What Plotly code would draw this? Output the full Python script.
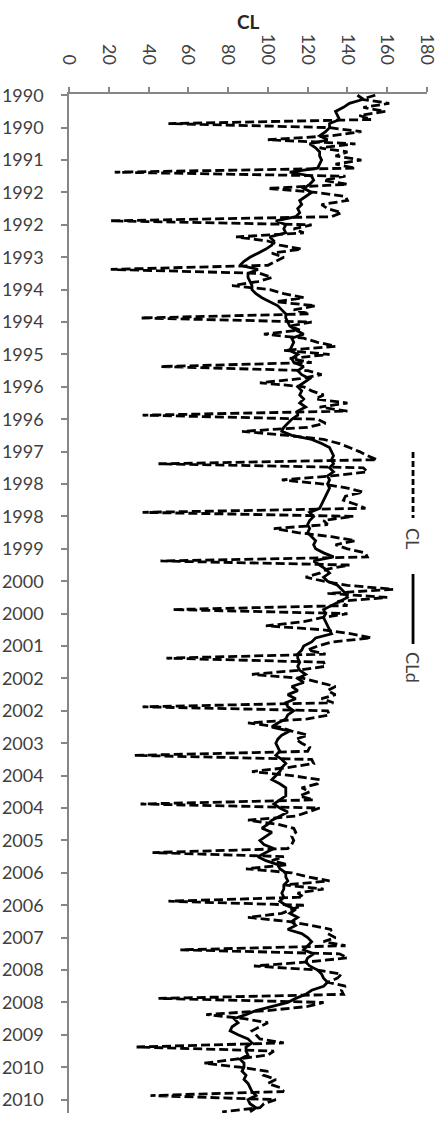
import plotly.graph_objects as go

# Monthly categories Jan 1990 .. Dec 2010
months = [f"{y}-{m:02d}" for y in range(1990, 2011) for m in range(1, 13)]

# CL (dashed) monthly values
cl = [
    154, 147, 161, 148, 159, 146, 152, 50, 131, 147, 132, 100,   # 1990
    144, 126, 140, 134, 147, 134, 144, 23, 139, 128, 140, 100,   # 1991
    124, 139, 140, 127, 130, 137, 132, 21, 122, 113, 118, 84,    # 1992
    100, 106, 117, 102, 108, 104, 100, 21, 96, 102, 95, 82,      # 1993
    101, 108, 118, 104, 124, 113, 121, 36, 122, 111, 116, 98,    # 1994
    118, 125, 134, 108, 131, 111, 122, 46, 120, 127, 116, 96,    # 1995
    118, 122, 128, 124, 140, 126, 140, 37, 125, 129, 120, 87,    # 1996
    110, 128, 136, 141, 146, 150, 155, 45, 148, 150, 132, 107,   # 1997
    128, 140, 148, 139, 138, 144, 149, 37, 143, 128, 130, 103,   # 1998
    115, 132, 144, 134, 140, 149, 150, 46, 141, 130, 126, 119,   # 1999
    128, 140, 163, 130, 160, 135, 140, 52, 140, 127, 118, 99,    # 2000
    128, 142, 152, 132, 125, 120, 129, 49, 128, 129, 115, 92,    # 2001
    118, 126, 134, 130, 134, 127, 133, 37, 130, 131, 120, 90,    # 2002
    106, 112, 120, 114, 117, 121, 120, 33, 122, 123, 110, 92,    # 2003
    112, 126, 125, 117, 121, 116, 123, 36, 126, 120, 114, 90,    # 2004
    105, 113, 114, 112, 113, 112, 110, 42, 108, 102, 110, 89,    # 2005
    112, 120, 131, 108, 128, 115, 118, 50, 118, 112, 107, 90,    # 2006
    110, 122, 132, 130, 134, 128, 139, 56, 136, 140, 120, 93,    # 2007
    125, 137, 135, 130, 139, 137, 138, 45, 128, 120, 100, 69,    # 2008
    88, 100, 96, 92, 94, 96, 108, 34, 103, 100, 84, 68,          # 2009
    86, 100, 98, 104, 100, 106, 108, 41, 104, 98, 96, 77,        # 2010
]

# CLd (solid) monthly values
cld = [
    145, 148, 141, 138, 134, 135, 136, 131, 131, 129, 126, 130,  # 1990
    121, 124, 126, 126, 127, 126, 125, 111, 122, 123, 121, 118,  # 1991
    122, 119, 116, 117, 115, 116, 114, 104, 109, 108, 109, 101,  # 1992
    103, 102, 99, 95, 91, 88, 86, 95, 90, 90, 91, 92,            # 1993
    92, 94, 97, 101, 105, 107, 109, 109, 110, 111, 114, 118,     # 1994
    112, 113, 112, 111, 115, 112, 113, 118, 115, 117, 121, 118,  # 1995
    115, 117, 116, 118, 116, 119, 115, 115, 112, 110, 108, 107,  # 1996
    112, 122, 127, 131, 132, 133, 132, 133, 131, 133, 130, 131,  # 1997
    130, 131, 130, 129, 128, 127, 126, 121, 123, 121, 120, 121,  # 1998
    120, 122, 124, 123, 124, 128, 133, 123, 126, 129, 131, 128,  # 1999
    130, 135, 137, 139, 140, 136, 132, 128, 129, 128, 129, 130,  # 2000
    131, 132, 124, 122, 118, 117, 115, 115, 116, 115, 116, 119,  # 2001
    115, 118, 112, 115, 110, 114, 109, 110, 113, 110, 109, 105,  # 2002
    102, 111, 107, 105, 104, 105, 106, 104, 107, 109, 107, 106,  # 2003
    104, 102, 106, 109, 109, 109, 106, 103, 106, 110, 106, 102,  # 2004
    100, 97, 102, 99, 96, 98, 103, 99, 95, 99, 105, 106,         # 2005
    109, 109, 110, 108, 108, 107, 108, 106, 109, 114, 111, 115,  # 2006
    112, 114, 110, 117, 120, 122, 120, 118, 123, 120, 119, 121,  # 2007
    125, 127, 128, 130, 128, 122, 119, 114, 110, 102, 94, 89,    # 2008
    83, 85, 82, 81, 85, 90, 92, 89, 89, 90, 86, 88,              # 2009
    88, 87, 89, 88, 90, 91, 92, 94, 90, 91, 94, 91,              # 2010
]

tick_months = months[::8]
tick_labels = [m[:4] for m in tick_months]
x_ticks = [0, 20, 40, 60, 80, 100, 120, 140, 160, 180]

FONT = "Lato, 'Open Sans', sans-serif"
AXIS_GRAY = "#868686"
TXT = "#404040"

fig = go.Figure()
fig.add_trace(go.Scatter(
    x=cl, y=months, mode="lines", name="CL",
    line=dict(color="black", width=2.8, dash="9px,4px"),
))
fig.add_trace(go.Scatter(
    x=cld, y=months, mode="lines", name="CLd",
    line=dict(color="black", width=2.8),
))

fig.update_layout(
    width=448, height=1123,
    margin=dict(l=69, r=21, t=94, b=10, autoexpand=False),
    paper_bgcolor="white", plot_bgcolor="white",
    showlegend=False, hovermode=False,
    font=dict(family=FONT, size=18, color=TXT),
    xaxis=dict(
        side="top", range=[0, 180], tickvals=x_ticks,
        tickangle=90, showgrid=False, zeroline=False, automargin=False,
        showline=True, linecolor=AXIS_GRAY, linewidth=1.5,
        ticks="outside", ticklen=5, tickcolor=AXIS_GRAY, tickwidth=1.5,
        ticklabelstandoff=16,
        tickfont=dict(family=FONT, size=18, color=TXT),
    ),
    yaxis=dict(
        type="category", categoryorder="array", categoryarray=months,
        range=[251.3, -0.3], automargin=False,
        tickvals=tick_months, ticktext=tick_labels,
        showgrid=False, zeroline=False,
        showline=True, linecolor=AXIS_GRAY, linewidth=1.5,
        ticks="outside", ticklen=6, tickcolor=AXIS_GRAY, tickwidth=1.5,
        ticklabelstandoff=14,
        tickfont=dict(family=FONT, size=18, color=TXT),
    ),
)

# Title
fig.add_annotation(
    text="<b>CL</b>", xref="paper", yref="paper", x=0.5, y=1.0707,
    showarrow=False, xanchor="center", yanchor="middle",
    font=dict(family=FONT, size=19, color="#262626"),
)

# Rotated legend (drawn inside the plot area, right side)
fig.add_shape(type="line", xref="paper", yref="paper",
              x0=0.961, x1=0.961, y0=0.6487, y1=0.5839,
              line=dict(color="black", width=2.8, dash="6px,3px"))
fig.add_shape(type="line", xref="paper", yref="paper",
              x0=0.961, x1=0.961, y0=0.529, y1=0.4603,
              line=dict(color="black", width=2.8))
fig.add_annotation(text="CL", xref="paper", yref="paper", x=0.961, y=0.5643,
                   textangle=90, showarrow=False, xanchor="center", yanchor="middle",
                   font=dict(family=FONT, size=18, color=TXT))
fig.add_annotation(text="CLd", xref="paper", yref="paper", x=0.961, y=0.4377,
                   textangle=90, showarrow=False, xanchor="center", yanchor="middle",
                   font=dict(family=FONT, size=18, color=TXT))

# remove the page's default body margin so the figure sits at the window origin
fig.write_html("out.html", config={"displayModeBar": False},
               post_script="document.body.style.margin='0';")
